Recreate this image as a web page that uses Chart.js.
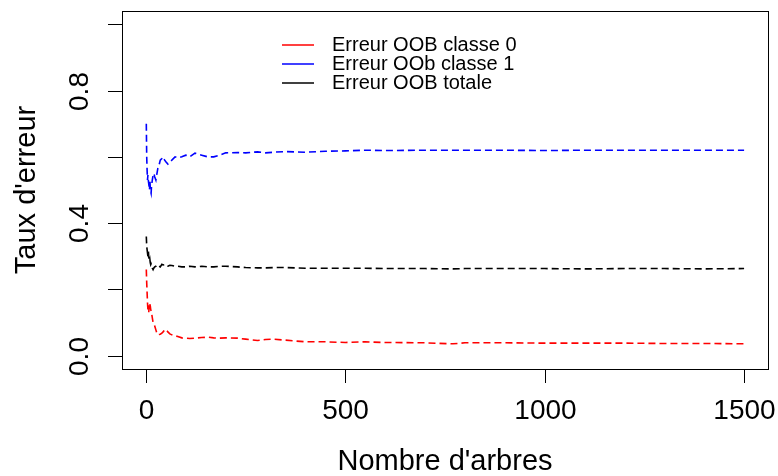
<!DOCTYPE html>
<html>
<head>
<meta charset="utf-8">
<script src="https://cdn.jsdelivr.net/npm/chart.js@4"></script>
<style>
  body { margin: 0; background: #fff; }
  #wrap { width: 778px; height: 476px; }
</style>
</head>
<body>
<div id="wrap"><canvas id="c" width="778" height="476"></canvas></div>
<script>
// nombre d'arbres
const arbres = [1,2,3,4,5,6,7,8,9,10,11,12,13,14,16,18,20,22,25,27,30,33,36,40,43,47,50,55,60,65,73,80,90,100,110,123,140,155,170,185,200,230,250,280,300,320,350,400,450,500,550,600,700,770,800,900,1000,1100,1200,1300,1400,1500];

// erreur OOB classe 0 (rouge)
const errClasse0 = [0.26,0.22,0.19,0.16,0.14,0.13,0.13,0.145,0.16,0.155,0.15,0.14,0.135,0.13,0.115,0.10,0.095,0.09,0.078,0.07,0.063,0.064,0.065,0.068,0.072,0.078,0.08,0.072,0.066,0.063,0.06,0.058,0.054,0.053,0.052,0.053,0.055,0.056,0.054,0.053,0.054,0.053,0.05,0.046,0.049,0.05,0.047,0.042,0.042,0.04,0.042,0.04,0.039,0.036,0.039,0.039,0.038,0.038,0.038,0.037,0.037,0.036];

// erreur OOB classe 1 (bleu)
const errClasse1 = [0.70,0.60,0.56,0.53,0.545,0.53,0.52,0.51,0.50,0.53,0.505,0.495,0.49,0.51,0.53,0.545,0.55,0.54,0.53,0.545,0.566,0.575,0.59,0.595,0.60,0.59,0.585,0.578,0.585,0.59,0.60,0.597,0.60,0.605,0.60,0.611,0.605,0.60,0.60,0.605,0.612,0.613,0.612,0.615,0.612,0.614,0.616,0.614,0.617,0.618,0.62,0.619,0.62,0.62,0.62,0.62,0.619,0.62,0.62,0.62,0.62,0.62];

// erreur OOB totale (noir)
const errTotale = [0.36,0.33,0.32,0.31,0.315,0.32,0.30,0.29,0.285,0.29,0.28,0.275,0.278,0.275,0.265,0.26,0.265,0.268,0.27,0.272,0.275,0.27,0.268,0.276,0.274,0.275,0.27,0.27,0.273,0.272,0.27,0.27,0.268,0.268,0.27,0.268,0.27,0.268,0.268,0.27,0.27,0.268,0.266,0.265,0.265,0.266,0.266,0.264,0.264,0.264,0.264,0.263,0.263,0.262,0.263,0.263,0.263,0.262,0.263,0.263,0.262,0.263];

const xTicks = [0, 500, 1000, 1500];
const yTicks = [0, 0.2, 0.4, 0.6, 0.8, 1.0];
const yLabels = ['0.0', '', '0.4', '', '0.8', ''];
const legendLabels = ['Erreur OOB classe 0', 'Erreur OOb classe 1', 'Erreur OOB totale'];
const couleurs = ['#FF0000', '#0000FF', '#000000'];

function serie(vals) {
  return arbres.map((a, i) => ({ x: a, y: vals[i] }));
}

// axes, cadre et légende façon R
const axesR = {
  id: 'axesR',
  afterDraw(chart) {
    const ctx = chart.ctx;
    const a = chart.chartArea;
    const xs = chart.scales.x, ys = chart.scales.y;
    ctx.save();
    ctx.strokeStyle = '#000';
    ctx.lineWidth = 1;
    ctx.strokeRect(a.left + 0.5, a.top + 0.5, a.right - a.left, a.bottom - a.top);

    ctx.fillStyle = '#000';
    ctx.font = '28px "Liberation Sans", Arial, sans-serif';
    // axe x
    ctx.textAlign = 'center';
    ctx.textBaseline = 'middle';
    xTicks.forEach(v => {
      const px = Math.round(xs.getPixelForValue(v)) + 0.5;
      ctx.beginPath();
      ctx.moveTo(px, a.bottom);
      ctx.lineTo(px, a.bottom + 14);
      ctx.stroke();
      ctx.fillText(String(v), px, 411);
    });
    // axe y
    yTicks.forEach((v, i) => {
      const py = Math.round(ys.getPixelForValue(v)) + 0.5;
      ctx.beginPath();
      ctx.moveTo(a.left, py);
      ctx.lineTo(a.left - 14, py);
      ctx.stroke();
      if (yLabels[i]) {
        ctx.save();
        ctx.translate(80, py);
        ctx.rotate(-Math.PI / 2);
        ctx.fillText(yLabels[i], 0, 0);
        ctx.restore();
      }
    });
    // titres
    ctx.font = '29px "Liberation Sans", Arial, sans-serif';
    ctx.fillText("Nombre d'arbres", (a.left + a.right) / 2, 462);
    ctx.save();
    ctx.translate(27, (a.top + a.bottom) / 2);
    ctx.rotate(-Math.PI / 2);
    ctx.fillText("Taux d'erreur", 0, 0);
    ctx.restore();

    // légende
    ctx.font = '20px "Liberation Sans", Arial, sans-serif';
    ctx.textAlign = 'left';
    legendLabels.forEach((lab, i) => {
      const y = 45 + i * 19;
      ctx.strokeStyle = couleurs[i];
      ctx.lineWidth = 1.5;
      ctx.beginPath();
      ctx.moveTo(282, y);
      ctx.lineTo(314, y);
      ctx.stroke();
      ctx.fillText(lab, 332, y);
    });
    ctx.restore();
  }
};

function ds(label, vals, col) {
  return {
    label: label,
    data: serie(vals),
    borderColor: col,
    borderWidth: 1.6,
    borderDash: [7, 4],
    pointRadius: 0,
    tension: 0,
    fill: false
  };
}

new Chart(document.getElementById('c').getContext('2d'), {
  type: 'line',
  data: {
    datasets: [
      ds(legendLabels[0], errClasse0, couleurs[0]),
      ds(legendLabels[1], errClasse1, couleurs[1]),
      ds(legendLabels[2], errTotale, couleurs[2])
    ]
  },
  options: {
    responsive: false,
    animation: false,
    layout: { padding: { left: 122, top: 11, right: 10, bottom: 107 } },
    plugins: { legend: { display: false }, tooltip: { enabled: false } },
    scales: {
      x: { type: 'linear', min: -59.96, max: 1559.96, display: false },
      y: { type: 'linear', min: -0.04, max: 1.04, display: false }
    }
  },
  plugins: [axesR]
});
</script>
</body>
</html>
